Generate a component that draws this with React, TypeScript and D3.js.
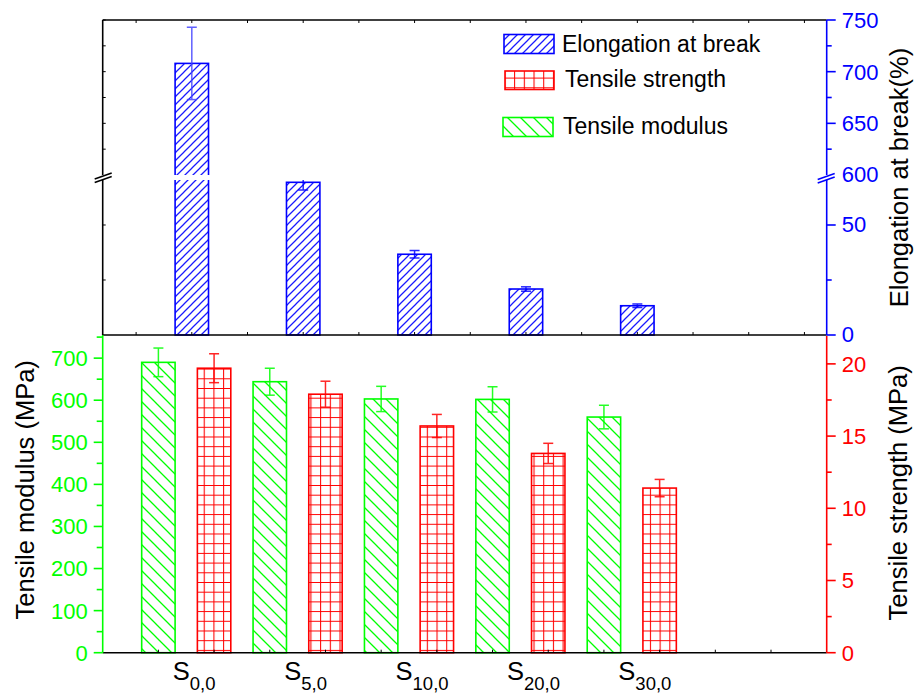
import React from "react";
import * as d3 from "d3";

const categories = ["0,0", "5,0", "10,0", "20,0", "30,0"];
const elongation = [708, 69.4, 36.7, 20.9, 13.3];
const elongationErr = [35, 3.5, 1.7, 1.0, 0.8];
const modulus = [690, 644, 603, 602, 560];
const modulusErr = [34, 32, 30, 30, 28];
const strength = [19.7, 17.9, 15.7, 13.8, 11.4];
const strengthErr = [1.0, 0.9, 0.8, 0.7, 0.6];

const elongUpperTicks = [650, 700, 750];
const elongUpperMinor = [625, 675, 725];
const elongLowerTicks = [0, 50];
const elongLowerMinor = [25];
const modulusTicks = [0, 100, 200, 300, 400, 500, 600, 700];
const modulusMinor = [50, 150, 250, 350, 450, 550, 650, 750];
const strengthTicks = [0, 5, 10, 15, 20];
const strengthMinor = [2.5, 7.5, 12.5, 17.5];
const legendLabels = ["Elongation at break", "Tensile strength", "Tensile modulus"];

const FONT = "'Liberation Sans', Arial, Helvetica, sans-serif";
const BLUE = "#0000ff";
const RED = "#ff0000";
const GREEN = "#00ff00";

const L = 102.7, R = 826.7, T = 20, M = 335, B = 652.7;
const GAP_TOP = 175, GAP_BOT = 180;

export default function App() {
  const xTop = d3.scaleLinear().domain([-0.6, 12.4]).range([L, R]);
  const xBot = d3.scaleLinear().domain([0, 13]).range([L, R]);
  const yUp = d3.scaleLinear().domain([600, 750]).range([GAP_TOP, T]);
  const yLo = d3.scaleLinear().domain([0, 70.45]).range([M, GAP_BOT]);
  const yMod = d3.scaleLinear().domain([0, 755]).range([B, M]);
  const yStr = d3.scaleLinear().domain([0, 22]).range([B, M]);
  const bw = xBot(0.6) - xBot(0);
  const capW = 10;
  const lowerMax = yLo.domain()[1];

  const errBar = (x: number, y1: number, y2: number, color: string, key: string) => (
    <g key={key} stroke={color} strokeWidth={1.5} opacity={0.85}>
      <line x1={x} x2={x} y1={y1} y2={y2} />
      <line x1={x - capW / 2} x2={x + capW / 2} y1={y1} y2={y1} />
      <line x1={x - capW / 2} x2={x + capW / 2} y1={y2} y2={y2} />
    </g>
  );

  const topTickVals = d3.range(0, 13);
  const botTickVals = d3.range(1, 13);

  return (
    <svg width={914} height={695} style={{ position: "absolute", left: 0, top: 0, background: "#fff" }} fontFamily={FONT}>
      <defs>
        <pattern id="blueHatch" patternUnits="userSpaceOnUse" width={8} height={8}>
          <path d="M-2,2 L2,-2 M0,8 L8,0 M6,10 L10,6" stroke="#1a1aff" strokeWidth={1.25} />
        </pattern>
        <pattern id="greenHatch" patternUnits="userSpaceOnUse" width={13} height={13}>
          <path d="M-3,10 L3,16 M0,0 L13,13 M10,-3 L16,3" stroke={GREEN} strokeWidth={1.3} />
        </pattern>
        <pattern id="redGrid" patternUnits="userSpaceOnUse" width={9.7} height={9.7}>
          <path d="M0.5,0 L0.5,9.7 M0,0.5 L9.7,0.5" stroke={RED} strokeWidth={1.1} />
        </pattern>
        <clipPath id="clipUp"><rect x={0} y={0} width={914} height={GAP_TOP} /></clipPath>
        <clipPath id="clipLo"><rect x={0} y={GAP_BOT} width={914} height={M - GAP_BOT + 1} /></clipPath>
      </defs>

      {/* Top panel bars: elongation */}
      <g clipPath="url(#clipLo)">
        {elongation.map((v, i) => {
          const cx = xTop(1 + 2 * i);
          const yv = v > lowerMax ? GAP_BOT - 5 : yLo(v);
          return (
            <rect key={"bl" + i} x={cx - bw / 2} y={yv} width={bw} height={M - yv}
              fill="url(#blueHatch)" stroke={BLUE} strokeWidth={1.6} />
          );
        })}
        {elongation.map((v, i) => v <= lowerMax ?
          errBar(xTop(1 + 2 * i), yLo(v + elongationErr[i]), yLo(v - elongationErr[i]), BLUE, "el" + i) : null)}
      </g>
      <g clipPath="url(#clipUp)">
        {elongation.map((v, i) => {
          if (v <= lowerMax) return null;
          const cx = xTop(1 + 2 * i);
          const yv = yUp(v);
          return (
            <rect key={"bu" + i} x={cx - bw / 2} y={yv} width={bw} height={GAP_TOP + 5 - yv}
              fill="url(#blueHatch)" stroke={BLUE} strokeWidth={1.6} />
          );
        })}
        {elongation.map((v, i) => v > lowerMax ?
          errBar(xTop(1 + 2 * i), yUp(v + elongationErr[i]), yUp(v - elongationErr[i]), "#4444ff", "eu" + i) : null)}
      </g>

      {/* Bottom panel bars */}
      {modulus.map((v, i) => {
        const cx = xBot(1 + 2 * i);
        return (
          <g key={"g" + i}>
            <rect x={cx - bw / 2} y={yMod(v)} width={bw} height={B - yMod(v)}
              fill="url(#greenHatch)" stroke={GREEN} strokeWidth={1.6} />
            {errBar(cx, yMod(v + modulusErr[i]), yMod(v - modulusErr[i]), GREEN, "ge" + i)}
          </g>
        );
      })}
      {strength.map((v, i) => {
        const cx = xBot(2 + 2 * i);
        return (
          <g key={"r" + i}>
            <rect x={cx - bw / 2} y={yStr(v)} width={bw} height={B - yStr(v)}
              fill="url(#redGrid)" stroke={RED} strokeWidth={1.6} />
            {errBar(cx, yStr(v + strengthErr[i]), yStr(v - strengthErr[i]), RED, "re" + i)}
          </g>
        );
      })}

      {/* Frame lines */}
      <g stroke="#000" strokeWidth={1.6} fill="none">
        <line x1={L} x2={R} y1={T} y2={T} />
        <line x1={L} x2={R} y1={M} y2={M} />
        <line x1={L} x2={R} y1={B} y2={B} />
        <line x1={L} x2={L} y1={T} y2={GAP_TOP} />
        <line x1={L} x2={L} y1={GAP_BOT} y2={M} />
      </g>
      {/* ticks */}
      <g stroke="#000" strokeWidth={1}>
        {topTickVals.map((t) => (
          <g key={"tt" + t}>
            <line x1={xTop(t)} x2={xTop(t)} y1={T} y2={T + 3} />
            <line x1={xTop(t)} x2={xTop(t)} y1={M} y2={M - 3} />
          </g>
        ))}
        {botTickVals.map((t) => (
          <line key={"bt" + t} x1={xBot(t)} x2={xBot(t)} y1={B} y2={B - 3} />
        ))}
        {[...elongUpperTicks, ...elongUpperMinor].map((t) => (
          <line key={"lu" + t} x1={L} x2={L + 3} y1={yUp(t)} y2={yUp(t)} />
        ))}
        {[...elongLowerTicks.filter((t) => t > 0), ...elongLowerMinor].map((t) => (
          <line key={"ll" + t} x1={L} x2={L + 3} y1={yLo(t)} y2={yLo(t)} />
        ))}
      </g>
      {/* left break mark */}
      <g stroke="#000" strokeWidth={1.6}>
        <line x1={L - 8} x2={L + 9} y1={182.5} y2={176.5} />
        <line x1={L - 8} x2={L + 9} y1={179} y2={173} />
      </g>

      {/* Right blue axis (top panel) */}
      <g stroke={BLUE} strokeWidth={1.6}>
        <line x1={R} x2={R} y1={T} y2={GAP_TOP} />
        <line x1={R} x2={R} y1={GAP_BOT} y2={M} />
        {elongUpperTicks.map((t) => <line key={"bu" + t} x1={R} x2={R + 9} y1={yUp(t)} y2={yUp(t)} />)}
        {elongUpperMinor.map((t) => <line key={"bum" + t} x1={R} x2={R + 5} y1={yUp(t)} y2={yUp(t)} />)}
        {elongLowerTicks.map((t) => <line key={"bl" + t} x1={R} x2={R + 9} y1={yLo(t)} y2={yLo(t)} />)}
        {elongLowerMinor.map((t) => <line key={"blm" + t} x1={R} x2={R + 5} y1={yLo(t)} y2={yLo(t)} />)}
        <line x1={R - 9} x2={R + 8} y1={183} y2={177} />
        <line x1={R - 9} x2={R + 8} y1={179.5} y2={173.5} />
      </g>
      <g fill={BLUE} fontSize={22}>
        {elongUpperTicks.map((t) => (
          <text key={"tbu" + t} x={R + 15} y={yUp(t)} dy="0.36em">{t}</text>
        ))}
        <text x={R + 15} y={yUp(600)} dy="0.3em">600</text>
        {elongLowerTicks.map((t) => (
          <text key={"tbl" + t} x={R + 15} y={yLo(t)} dy="0.3em">{t}</text>
        ))}
      </g>

      {/* Left green axis */}
      <g stroke={GREEN} strokeWidth={1.6}>
        <line x1={L} x2={L} y1={M} y2={B} />
        {modulusTicks.map((t) => <line key={"gm" + t} x1={L - 9} x2={L} y1={yMod(t)} y2={yMod(t)} />)}
        {modulusMinor.map((t) => <line key={"gn" + t} x1={L - 6} x2={L} y1={yMod(t)} y2={yMod(t)} />)}
      </g>
      <g fill={GREEN} fontSize={22} textAnchor="end">
        {modulusTicks.map((t) => (
          <text key={"tg" + t} x={L - 15} y={yMod(t)} dy="0.36em">{t}</text>
        ))}
      </g>

      {/* Right red axis */}
      <g stroke={RED} strokeWidth={1.6}>
        <line x1={R} x2={R} y1={M + 1} y2={B} />
        {strengthTicks.map((t) => <line key={"rm" + t} x1={R} x2={R + 9} y1={yStr(t)} y2={yStr(t)} />)}
        {strengthMinor.map((t) => <line key={"rn" + t} x1={R} x2={R + 5} y1={yStr(t)} y2={yStr(t)} />)}
      </g>
      <g fill={RED} fontSize={22}>
        {strengthTicks.map((t) => (
          <text key={"tr" + t} x={R + 15} y={yStr(t)} dy="0.36em">{t}</text>
        ))}
      </g>

      {/* Axis titles */}
      <g fill="#000" fontSize={25.5} textAnchor="middle">
        <text transform={`translate(33.5,${(M + B) / 2 - 4}) rotate(-90)`}>Tensile modulus (MPa)</text>
        <text transform={`translate(908,${(T + M) / 2}) rotate(-90)`}>Elongation at break(%)</text>
        <text transform={`translate(907,${(M + B) / 2 - 1}) rotate(-90)`}>Tensile strength (MPa)</text>
      </g>

      {/* X category labels */}
      <g fill="#000">
        {categories.map((c, i) => (
          <text key={"xl" + i} x={xTop(1 + 2 * i) - 19} y={680} fontSize={25.5}>
            S<tspan fontSize={18.5} dy={10}>{c}</tspan>
          </text>
        ))}
      </g>

      {/* Legend */}
      <g fontSize={23} fill="#000">
        <rect x={504} y={34.5} width={50} height={19} fill="url(#blueHatch)" stroke={BLUE} strokeWidth={1.6} />
        <text x={562} y={52}>{legendLabels[0]}</text>
        <rect x={505} y={71} width={49} height={18.5} fill="url(#redGrid)" stroke={RED} strokeWidth={1.6} />
        <text x={565} y={87}>{legendLabels[1]}</text>
        <rect x={503} y={117.5} width={50} height={19} fill="url(#greenHatch)" stroke={GREEN} strokeWidth={1.6} />
        <text x={563} y={134}>{legendLabels[2]}</text>
      </g>
    </svg>
  );
}
